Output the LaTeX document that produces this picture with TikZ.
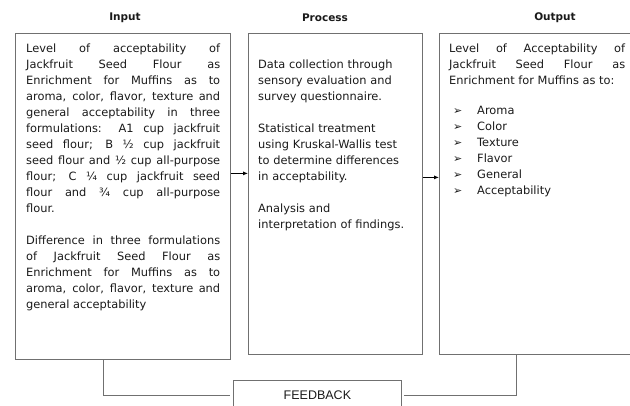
\documentclass[tikz,border=0pt]{standalone}
\usepackage{fontspec}
\setmainfont{DejaVu Sans}
\newfontfamily\fbfont{Liberation Sans}
\usetikzlibrary{arrows.meta,positioning}
\definecolor{FrameGray}{HTML}{707070}
\definecolor{InkBlack}{HTML}{1A1A1A}

\tikzset{
  frame/.style={draw=FrameGray,line width=0.8pt,inner sep=0pt,anchor=north west},
  body/.style={inner sep=0pt,anchor=north west,text=InkBlack,
    font=\fontsize{11.4}{16}\selectfont},
  heading/.style={font=\fontsize{10.5}{13}\selectfont\bfseries,text=InkBlack},
  link/.style={draw=FrameGray,line width=0.8pt},
  flow/.style={link,draw=black,-{Latex[length=5pt,width=4pt]}},
}
\newcommand{\tick}{\hspace*{4pt}\makebox[24pt][l]{\fontsize{11}{16}\selectfont ➢}}

\begin{document}
\begin{tikzpicture}[x=1pt,y=-1pt]
    \useasboundingbox (0,0) rectangle (630,405);
    % boxes
    \node[frame,minimum width=215pt,minimum height=326pt] (input) at (15,33) {};
    \node[frame,minimum width=174pt,minimum height=321pt] (process) at (248,33) {};
    \node[frame,minimum width=206pt,minimum height=321pt] (output) at (439,33) {};
    \node[frame,minimum width=168pt,minimum height=30pt] (feedback) at (233,380) {};
    \node[text=InkBlack,font=\fbfont\fontsize{12.5}{14}\selectfont] (fbtext) at (feedback) {FEEDBACK};
    % headings
    \node[heading] (inputhead) at (125,18) {Input};
    \node[heading] (processhead) at (325,18) {Process};
    \node[heading] (outputhead) at (555,18) {Output};
    % texts
    \node[body,text width=194pt,align=justify] (inputtext) at (26,44) {%
      Level of acceptability of\linebreak
      Jackfruit Seed Flour as\linebreak
      Enrichment for Muffins as to\linebreak
      aroma, color, flavor, texture and\linebreak
      general acceptability in three\linebreak
      formulations: A1 cup jackfruit\linebreak
      seed flour; B ½ cup jackfruit\linebreak
      seed flour and ½ cup all-purpose\linebreak
      flour; C ¼ cup jackfruit seed\linebreak
      flour and ¾ cup all-purpose\linebreak
      flour.\par\vspace{16pt}
      Difference in three formulations\linebreak
      of Jackfruit Seed Flour as\linebreak
      Enrichment for Muffins as to\linebreak
      aroma, color, flavor, texture and\linebreak
      general acceptability};
    \node[body,text width=164pt,align=left] (processtext) at (258,60) {%
      Data collection through\\
      sensory evaluation and\\
      survey questionnaire.\par\vspace{16pt}
      Statistical treatment\\
      using Kruskal-Wallis test\\
      to determine differences\\
      in acceptability.\par\vspace{16pt}
      Analysis and\\
      interpretation of findings.};
    \node[body,text width=176pt,align=justify] (outputtext) at (449,44) {%
      Level of Acceptability of\linebreak
      Jackfruit Seed Flour as\linebreak
      \mbox{Enrichment for Muffins as to:}\par\vspace{14pt}
      \tick Aroma\par
      \tick Color\par
      \tick Texture\par
      \tick Flavor\par
      \tick General\par
      \tick Acceptability};
    % connectors
    \draw[flow] ([yshift=23pt]input.east) -- ([yshift=23pt]input.east -| process.west);
    \draw[flow] ([yshift=16.5pt]process.east) -- ([yshift=16.5pt]process.east -| output.west);
    \draw[link] ([xshift=-20pt]input.south) |- ([xshift=-3pt]feedback.west);
    \draw[link] ([xshift=2pt]feedback.east) -| ([xshift=-26pt]output.south);
\end{tikzpicture}
\end{document}
